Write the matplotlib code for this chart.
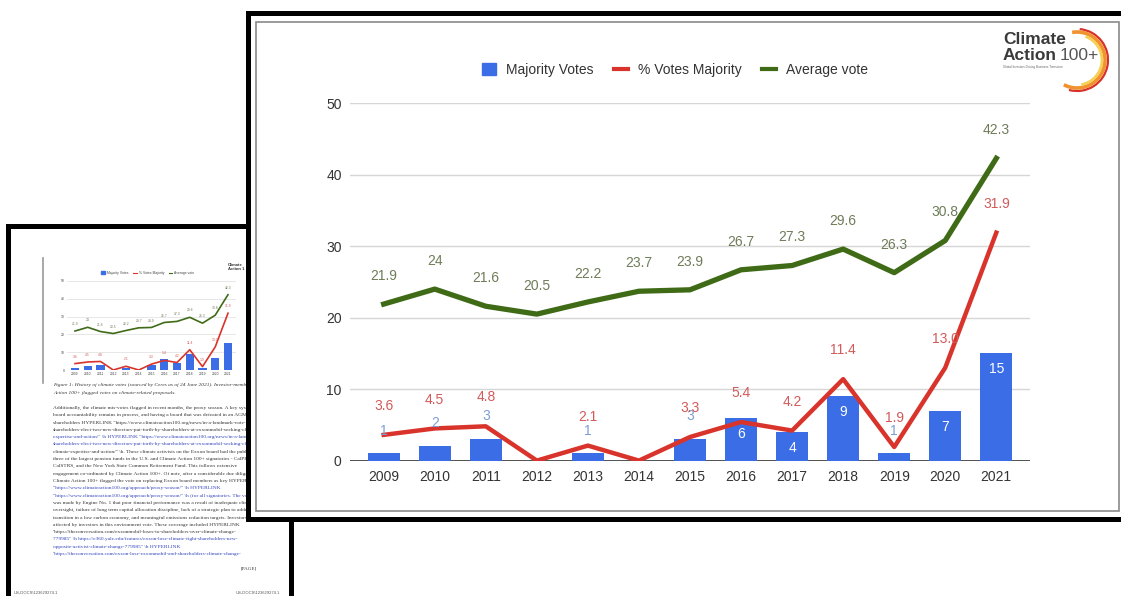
import matplotlib
matplotlib.use('Agg')
import matplotlib.pyplot as plt
from matplotlib.patches import Rectangle, Arc, Patch
from matplotlib.lines import Line2D

plt.rcParams['font.family'] = ['Liberation Sans', 'DejaVu Sans']

W, H = 1121, 596

# chart data
years = ['2009', '2010', '2011', '2012', '2013', '2014', '2015',
         '2016', '2017', '2018', '2019', '2020', '2021']
majority_votes = [1, 2, 3, 0, 1, 0, 3, 6, 4, 9, 1, 7, 15]
pct_majority = [3.6, 4.5, 4.8, 0, 2.1, 0, 3.3, 5.4, 4.2, 11.4, 1.9, 13.0, 31.9]
avg_vote = [21.9, 24, 21.6, 20.5, 22.2, 23.7, 23.9, 26.7, 27.3, 29.6, 26.3, 30.8, 42.3]
pct_labels = ['3.6', '4.5', '4.8', '', '2.1', '', '3.3', '5.4', '4.2', '11.4', '1.9', '13.0', '31.9']
avg_labels = ['21.9', '24', '21.6', '20.5', '22.2', '23.7', '23.9', '26.7', '27.3', '29.6', '26.3', '30.8', '42.3']
yticks = [0, 10, 20, 30, 40, 50]

# text of the page behind the chart (blurry in the source, approximated)
caption = ['Figure 1: History of climate votes (sourced by Ceres as of 24 June 2021). Investor-members Climate',
           'Action 100+ flagged votes on climate-related proposals.']
body = [
    ('Additionally, the climate mis-votes flagged in recent months, the proxy season. A key system of', '#333333'),
    ('board accountability remains in process, and having a board that was defeated in an AGM, from', '#333333'),
    ('shareholders HYPERLINK "https://www.climateaction100.org/news/in-a-landmark-vote-', '#333333'),
    ('shareholders-elect-two-new-directors-put-forth-by-shareholders-at-exxonmobil-seeking-climate-', '#333333'),
    ('expertise-and-action/" \\h HYPERLINK "https://www.climateaction100.org/news/in-a-landmark-vote-', '#3344bb'),
    ('shareholders-elect-two-new-directors-put-forth-by-shareholders-at-exxonmobil-seeking-climate-', '#3344bb'),
    ('climate-expertise-and-action/" \\h. These climate activists on the Exxon board had the public', '#333333'),
    ('three of the largest pension funds in the U.S. and Climate Action 100+ signatories - CalPERS,', '#333333'),
    ('CalSTRS, and the New York State Common Retirement Fund. This follows extensive', '#333333'),
    ('engagement co-ordinated by Climate Action 100+. Of note, after a considerable due diligence,', '#333333'),
    ('Climate Action 100+ flagged the vote on replacing Exxon board members as key HYPERLINK', '#333333'),
    ('"https://www.climateaction100.org/approach/proxy-season/" \\h HYPERLINK', '#3344bb'),
    ('"https://www.climateaction100.org/approach/proxy-season/" \\h (for all signatories. The vote', '#3344bb'),
    ('was made by Engine No. 1 that poor financial performance was a result of inadequate climate', '#333333'),
    ('oversight, failure of long term capital allocation discipline, lack of a strategic plan to address', '#333333'),
    ('transition in a low carbon economy, and meaningful emissions reduction targets. Investors were', '#333333'),
    ('affected by investors in this environment vote. These coverage included HYPERLINK', '#333333'),
    ('"https://theconversation.com/exxonmobil-loses-to-shareholders-over-climate-change-', '#333333'),
    ('779985" \\h https://e360.yale.edu/features/exxon-lose-climate-fight-shareholders-new-', '#3344bb'),
    ('opposite-activist-climate-change-779985" \\h HYPERLINK', '#3344bb'),
    ('"https://theconversation.com/exxon-lose-exxonmobil-and-shareholders-climate-change-', '#3344bb'),
]

blue = '#3b6ee6'
red = '#d9342b'
green = '#3f6b17'


def box(x0, y0, x1, y1):
    return [x0 / W, 1 - y1 / H, (x1 - x0) / W, (y1 - y0) / H]


def pixel_axes(rect, z):
    a = fig.add_axes(rect, zorder=z)
    a.axis('off')
    return a


fig = plt.figure(figsize=(W / 100, H / 100), dpi=100)
fig.patch.set_facecolor('white')

# page in the back
bg = pixel_axes([0, 0, 1, 1], 0)
bg.set_xlim(0, W)
bg.set_ylim(H, 0)
bg.add_patch(Rectangle((7.5, 225.5), 283, 400, fc='white', ec='black', lw=3.6))
bg.plot([43, 43], [258, 383], color='#9a9a9a', lw=1.2)

page = pixel_axes(box(10, 228, 288, 596), 0.2)
page.set_xlim(10, 288)
page.set_ylim(596, 228)
for i, line in enumerate(caption):
    page.text(53, 385 + i * 8, line, fontsize=3.9, style='italic', color='#333333',
              family='Liberation Serif', va='center', clip_on=True)
for i, (line, col) in enumerate(body):
    page.text(53, 408 + i * 7.3, line, fontsize=3.9, color=col,
              family='Liberation Serif', va='center', clip_on=True)
page.text(257, 568, '[PAGE]', fontsize=3.6, color='#333333', family='Liberation Serif',
          ha='right', va='center', clip_on=True)
page.text(14, 593, 'US-DOCS\\123629274.1', fontsize=3, color='#555555', va='center', clip_on=True)
page.text(280, 593, 'US-DOCS\\123629274.1', fontsize=3, color='#555555', ha='right',
          va='center', clip_on=True)
page.text(228, 267, 'Climate\nAction 1', fontsize=3, weight='bold', color='#333333',
          va='center', linespacing=0.9, clip_on=True)

# small copy of the chart on the page
x = list(range(len(years)))
mini = fig.add_axes(box(66.6, 281, 236.4, 370), zorder=0.3)
mini.patch.set_alpha(0)
for s in mini.spines.values():
    s.set_visible(False)
for y in yticks[1:]:
    mini.axhline(y, color='#dddddd', lw=0.5, zorder=0.5)
mini.axhline(0, color='#555555', lw=0.5, zorder=1.5)
mini.bar(x, majority_votes, width=0.63, color=blue, zorder=2)
mini.plot(x, pct_majority, color=red, lw=1.2, zorder=3)
mini.plot(x, avg_vote, color=green, lw=1.2, zorder=3)
for i in x:
    if pct_labels[i]:
        mini.annotate(pct_labels[i], (i, pct_majority[i]), xytext=(0, 5), textcoords='offset points',
                      ha='center', va='center', fontsize=2.4, color='#d35a5a')
    mini.annotate(avg_labels[i], (i, avg_vote[i]), xytext=(0, 5), textcoords='offset points',
                  ha='center', va='center', fontsize=2.4, color='#6e7c59')
mini.set_xlim(-0.66, 12.66)
mini.set_ylim(0, 50)
mini.set_xticks(x, years)
mini.set_yticks(yticks)
mini.tick_params(length=0, pad=1.5, labelsize=2.4, colors='#444444')
mini.legend(handles=[Patch(color=blue, label='Majority Votes'),
                     Line2D([], [], color=red, lw=0.8, label='% Votes Majority'),
                     Line2D([], [], color=green, lw=0.8, label='Average vote')],
            loc='center', bbox_to_anchor=(148 / W, 1 - 273 / H), bbox_transform=fig.transFigure,
            ncol=3, frameon=False, fontsize=2.4, handlelength=1.0, handleheight=1.0,
            handletextpad=0.6, columnspacing=1.5, labelcolor='#444444')

# front frame
front = pixel_axes([0, 0, 1, 1], 1)
front.set_xlim(0, W)
front.set_ylim(H, 0)
front.add_patch(Rectangle((247.5, 12.5), 900, 506, fc='white', ec='black', lw=3.6))
front.add_patch(Rectangle((256, 22), 863, 489, fc='none', ec='#8a8a8a', lw=1.2))

# logo
front.text(1003, 40, 'Climate', fontsize=12.5, weight='bold', color='#3a3a3a', va='center')
front.text(1003, 56, 'Action', fontsize=12.5, weight='bold', color='#3a3a3a', va='center')
front.text(1060, 56, '100+', fontsize=12.5, color='#555555', va='center')
front.text(1003, 67, 'Global Investors Driving Business Transition', fontsize=2.2,
           color='#666666', va='center')
front.add_patch(Arc((1077, 60), 62, 62, theta1=-85, theta2=105, color='#d8312a', lw=1.6))
front.add_patch(Arc((1077, 60), 56, 56, theta1=-100, theta2=118, color='#f0922e', lw=2.6))
front.add_patch(Arc((1077, 60), 50, 50, theta1=-70, theta2=80, color='#f6cf55', lw=2.0))

# main chart
ax = fig.add_axes(box(350, 103.3, 1030, 460.6), zorder=2)
ax.patch.set_alpha(0)
for s in ax.spines.values():
    s.set_visible(False)
for y in yticks[1:]:
    ax.axhline(y, color='#d6d6d6', lw=1, zorder=0.5)
ax.axhline(0, color='#333333', lw=1.2, zorder=1.5)

ax.bar(x, majority_votes, width=0.63, color=blue, zorder=2)
ax.plot(x, avg_vote, color=green, lw=3.8, zorder=3)
ax.plot(x, pct_majority, color=red, lw=3.2, zorder=3)

for i in x:
    v = majority_votes[i]
    if v >= 4:
        ax.annotate(str(v), (i, v), xytext=(0, -11.5), textcoords='offset points',
                    ha='center', va='center', fontsize=10, color='white', zorder=4)
    elif v > 0:
        ax.annotate(str(v), (i, v), xytext=(0, 16.5), textcoords='offset points',
                    ha='center', va='center', fontsize=10, color='#7c9fd6', zorder=4)
    if pct_labels[i]:
        ax.annotate(pct_labels[i], (i, pct_majority[i]), xytext=(0, 20.8), textcoords='offset points',
                    ha='center', va='center', fontsize=10, color='#d35a5a', zorder=4)
    ax.annotate(avg_labels[i], (i, avg_vote[i]), xytext=(0, 20.2), textcoords='offset points',
                ha='center', va='center', fontsize=10, color='#6e7c59', zorder=4)

ax.set_xlim(-0.66, 12.66)
ax.set_ylim(0, 50)
ax.set_xticks(x, years)
ax.set_yticks(yticks)
ax.tick_params(axis='x', length=0, pad=7, labelsize=10, colors='#333333')
ax.tick_params(axis='y', length=0, pad=6, labelsize=10, colors='#333333')

ax.legend(handles=[Patch(color=blue, label='Majority Votes'),
                   Line2D([], [], color=red, lw=3, label='% Votes Majority'),
                   Line2D([], [], color=green, lw=3, label='Average vote')],
          loc='center', bbox_to_anchor=(675 / W, 1 - 70 / H), bbox_transform=fig.transFigure,
          ncol=3, frameon=False, fontsize=10, handlelength=1.0, handleheight=1.0,
          handletextpad=0.7, columnspacing=1.5, labelcolor='#333333')

fig.savefig('out.png', dpi=100, facecolor='white')
